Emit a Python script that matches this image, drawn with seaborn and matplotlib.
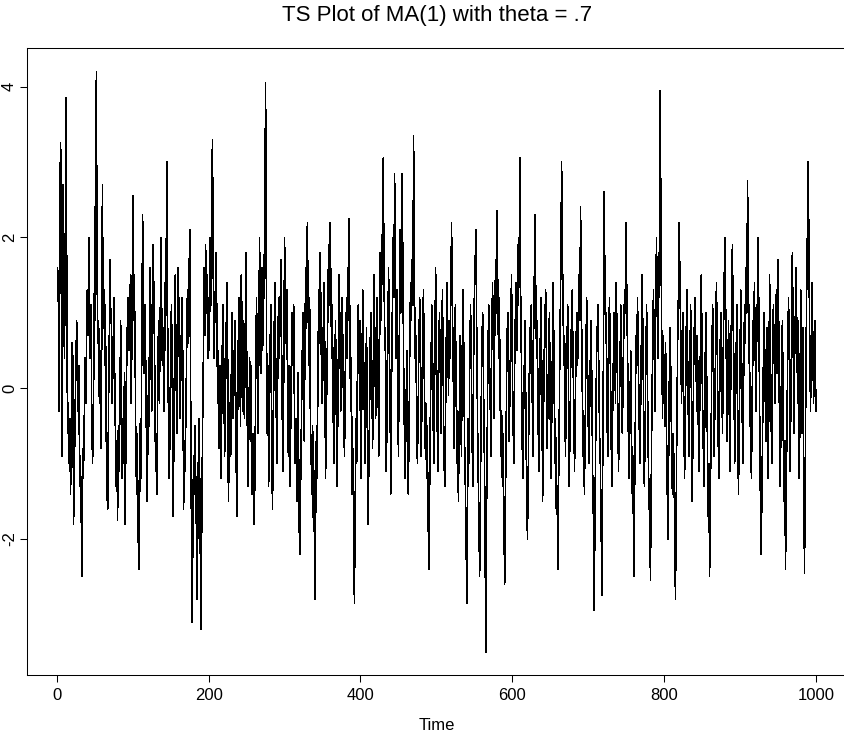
import matplotlib
matplotlib.use("Agg")
import seaborn as sns
import matplotlib.pyplot as plt
import pandas as pd

# Simulated MA(1) series (t = 1..1000)
seg_001_200 = [
    1.6, 1.1, -0.3, 2.7, 3.25, 0.9, -0.9, 2.7, 1.2, 0.4, 1.8, 3.85, 1.5, -0.6, -0.2, -1.0, -0.4, -1.4, -0.8, 0.6,
    0.4, -1.8, -1.2, -0.3, 0.2, 0.9, 0.6, -0.3, 0.3, -1.3, -0.9, -1.6, -2.5, -0.8, -1.2, -0.5, 0.4, -0.2, 0.6, 1.3,
    0.7, 2.0, 1.3, 0.4, 1.1, -0.4, -1.0, -0.5, 0.7, 2.4, 0.9, 4.2, 1.5, 0.6, 0.9, -0.2, 0.5, -0.8, 0.4, 2.7,
    0.8, 1.3, 0.3, 1.1, -0.6, -1.4, -1.6, -0.3, 0.6, 1.7, 1.0, 0.8, -0.2, 0.4, 1.2, 0.3, -0.5, -1.3, -0.7, -1.75,
    -0.5, -1.1, -0.3, 0.9, 0.1, -1.2, -0.4, -1.0, 0.2, -1.8, -0.6, 0.8, 0.3, 1.2, 0.5, 1.0, 1.5, -0.2, 0.8, 2.55,
    0.9, 1.5, 0.6, -0.7, -1.4, -0.6, -1.9, -2.4, -1.5, -0.4, -1.2, 0.8, 2.3, 1.1, 0.2, 1.1, 0.4, -0.7, -1.5, -0.6,
    0.4, -0.5, 1.6, 0.8, -0.3, 0.6, 1.9, 1.0, 0.2, -1.1, -0.6, -1.4, 0.3, 0.9, -0.2, 0.7, 2.0, 1.2, 0.3, 0.8,
    -0.3, 1.4, 0.5, 1.7, 3.0, 0.8, -0.4, -1.2, -0.6, 0.7, 1.1, 0.2, -1.7, -0.9, 0.5, 1.5, 0.3, -0.6, 0.4, 1.6,
    0.8, -0.4, 0.7, 0.1, 1.2, 0.3, -1.6, -0.7, -1.1, -0.3, 0.5, 1.3, 0.6, 1.4, 2.1, 0.3, -1.6, -3.1, -2.2, -0.9,
    -1.4, -0.5, -1.2, -2.0, -2.8, -1.3, -0.4, -1.0, -2.2, -3.2, -1.6, -0.5, 0.4, 1.6, 0.7, 1.9, 1.0, 1.5, 0.4, 1.2,
]
seg_201_400 = [
    0.5, 2.0, 1.1, 2.6, 3.3, 1.6, 0.4, 0.9, 1.4, 1.8, 0.6, -0.2, 0.5, -0.8, 0.3, -1.2, -0.5, 0.6, 1.1, 0.2,
    -0.9, -0.3, 0.7, 1.4, 0.5, -1.5, -0.8, -0.2, -0.9, 0.4, 1.0, -0.4, 0.5, -0.1, 0.9, -0.7, -1.7, -0.6, 0.6, 1.2,
    0.4, -0.5, 1.5, 0.8, -0.3, 0.9, -0.4, 0.5, 1.8, 0.6, -0.6, -1.3, -0.5, 0.4, -0.7, 0.3, -1.4, -0.6, -0.9, -1.8,
    -1.1, 0.2, 1.2, 0.4, -0.6, 0.4, 2.0, 1.1, 0.2, 1.6, 0.5, 0.9, 1.5, 2.4, 4.05, 1.3, -0.6, 0.3, -1.3, -0.5,
    0.6, 1.1, -0.2, -1.6, -0.9, 0.4, 1.4, 0.7, -0.3, -1.0, 0.2, 1.2, 0.4, 0.9, 1.7, 0.6, -0.4, -1.1, 0.3, 2.0,
    1.2, 0.6, 1.3, -0.2, -0.9, 0.3, -1.3, -0.6, 0.4, 1.0, 0.3, 1.1, -0.3, -1.0, -0.4, -1.5, -0.9, 0.2, -1.7, -2.2,
    -1.4, -0.6, 0.3, 1.0, 0.2, -0.7, 0.9, 1.6, 0.8, 2.2, 1.1, 0.3, 1.2, -0.4, -0.9, -1.4, -0.5, -1.9, -1.1, -2.8,
    -1.6, -0.5, -1.2, 0.3, 1.3, 0.6, 1.8, 0.9, -0.2, 0.8, 0.1, 1.4, 0.5, -1.2, -0.4, 0.3, 1.0, 1.9, 1.1, 2.2,
    1.4, 0.4, 1.1, -0.3, -1.0, -0.4, 0.9, 0.2, -1.3, -0.5, 0.6, 1.5, 0.7, -0.3, 0.4, 1.2, 0.3, -0.5, -0.9, 0.2,
    1.0, 0.4, 1.6, 0.9, 2.25, 0.8, -0.3, 0.4, -1.4, -0.8, -1.9, -2.85, -1.6, -0.4, -1.0, 0.3, 1.1, 0.2, 0.9, -0.6,
]
seg_401_600 = [
    -1.2, 0.3, 1.3, 0.5, -0.4, -1.0, 0.1, 0.8, -0.6, -1.8, -1.1, -0.3, 0.7, 1.0, 0.2, -0.8, 0.4, 1.5, 0.6, -0.4,
    0.3, 1.2, 0.4, -0.9, 0.2, 1.8, 0.9, 1.4, 2.2, 3.05, 1.6, 0.5, 0.8, -1.1, -0.4, 0.6, 1.6, 0.7, -0.2, -1.4,
    0.1, 1.1, 2.0, 1.2, 2.85, 1.3, 0.4, 1.3, 0.2, -0.9, 0.4, 2.1, 1.0, 1.5, 2.85, 1.4, 0.2, -0.7, -1.2, -0.3,
    0.5, -0.5, -1.4, -0.6, 0.6, 1.4, 0.9, 1.7, 1.1, 3.35, 1.6, 0.4, 0.7, -0.4, -1.0, -0.3, 0.6, 1.2, 0.3, -0.9,
    -0.2, 0.8, 1.3, 0.3, -0.8, -0.2, -1.2, -0.5, -1.6, -2.4, -1.5, -0.4, 0.4, 1.1, 0.5, -0.6, -1.0, 0.5, 1.6, 0.7,
    -0.4, -1.1, 0.2, 1.0, 0.4, -0.6, 0.5, 1.3, 0.2, -0.9, -1.3, -0.5, 0.6, 1.4, 0.8, -0.1, 0.9, 0.4, 1.2, 2.2,
    1.1, 0.5, -0.8, 0.3, 1.1, 0.0, -1.0, -0.3, -1.5, -0.6, 0.7, 0.2, -0.9, 0.4, 1.3, 0.6, -0.6, -1.2, -1.8, -2.85,
    -1.6, -0.4, -1.0, 0.4, 1.1, 0.5, -0.6, -1.3, 0.3, 1.2, 1.6, 2.1, 0.9, -0.2, -1.1, -1.7, -2.5, -1.4, -0.3, 0.6,
    1.0, 0.2, -0.7, -1.6, -3.5, -1.8, -0.6, 0.5, 1.1, 0.4, -0.3, -0.9, 0.7, 1.4, 0.6, -0.4, 0.9, 1.7, 1.0, 2.35,
    1.2, 0.4, 1.2, -0.1, -0.9, -0.3, -1.3, -0.6, -1.8, -2.6, -1.5, -0.3, 0.6, 1.0, 0.2, -0.7, 0.1, 0.8, 1.5, 0.4,
]
seg_601_800 = [
    -0.4, -1.0, 0.2, 0.9, 1.4, 0.5, 1.9, 1.1, 1.6, 3.05, 1.3, 0.4, -0.7, -1.2, -0.3, 0.4, 0.9, -0.5, -1.4, -2.0,
    -1.2, -0.3, 0.8, 0.2, 1.1, 0.3, -0.9, 0.6, 1.5, 2.3, 1.2, 0.4, 0.9, -0.4, -1.1, -0.2, 0.7, 1.2, 0.1, -1.5,
    -0.6, 0.4, 0.9, 1.3, 0.4, -0.8, -0.2, 0.6, 1.0, -0.3, -1.2, -0.4, 0.6, 1.4, 0.3, -1.0, -0.4, -1.6, -1.3, -2.4,
    -1.3, -0.2, 0.8, 1.6, 3.0, 1.9, 1.0, 0.3, 0.7, -0.9, -0.3, 0.5, 1.1, 0.2, -1.3, -0.6, 0.3, 0.9, 1.3, 0.4,
    -0.2, -1.1, -0.4, 0.6, 1.0, 0.3, 0.8, 1.5, 0.9, 2.4, 1.2, 0.3, -0.9, -0.3, -1.4, -0.6, 0.4, 1.2, 0.5, -0.4,
    -1.0, -0.3, 0.5, 0.9, -0.2, -1.2, -1.8, -2.95, -1.6, -0.6, 0.4, 0.8, 1.1, 0.2, -0.6, -1.0, -1.7, -2.75, -1.2, 0.3,
    2.6, 1.5, 0.6, 1.0, -0.5, -0.9, 0.3, 1.2, 0.6, -0.4, -1.3, -0.5, 0.2, 1.0, 0.5, -0.2, 1.4, 0.7, -0.3, -1.1,
    -0.4, 0.3, 1.1, 0.6, -0.6, 0.1, 0.8, 1.3, 1.0, 2.2, 1.1, 0.4, -0.7, -1.2, -0.3, 0.5, -0.5, -1.4, -0.9, -2.5,
    -1.5, -0.6, 0.7, 0.3, 1.2, 0.5, -0.3, -1.0, -0.4, 0.6, 1.5, 0.8, -0.3, -1.3, -0.6, 0.4, 1.1, 0.2, -0.7, -1.6,
    -1.2, -2.55, -1.3, -0.2, 0.6, 1.3, 0.5, -0.3, 1.0, 2.0, 1.1, 0.4, 1.8, 1.2, 3.95, 1.8, 0.6, -0.4, 0.7, 0.2,
]
seg_801_1000 = [
    -0.5, 0.6, -0.4, -1.2, -2.0, -1.0, 0.2, 0.8, 0.1, -0.9, -1.4, -0.6, -1.0, -1.9, -2.8, -1.5, -0.3, 0.7, 1.3, 2.2,
    1.3, 0.7, -0.2, 0.5, 1.0, -0.3, -1.2, -0.5, 0.6, 1.3, 0.4, -0.4, -0.9, 0.3, 1.1, 0.2, -1.5, -0.7, 0.3, 0.9,
    1.2, 0.5, -0.3, 0.7, -0.4, -1.1, -0.2, 0.6, 1.5, 0.6, -0.8, -0.3, -1.3, 0.2, 1.0, 0.3, -0.6, -1.7, -1.0, -2.5,
    -1.4, -0.6, 0.5, 1.1, 0.3, -0.9, -0.2, 0.7, 1.4, 0.6, -0.4, -1.2, -0.3, 0.6, 1.0, 0.2, -0.6, 0.5, 1.3, 2.0,
    1.2, 0.4, -0.7, 0.2, 0.9, -0.4, -1.1, 0.3, 1.2, 1.9, 0.9, 0.3, -1.0, -0.4, 0.5, 1.1, -0.3, -1.4, -0.6, 0.4,
    1.3, 0.6, -0.4, -1.0, 0.3, 1.1, 0.6, 1.6, 1.0, 2.75, 1.5, 0.7, -0.5, 0.2, -1.2, -0.4, 0.9, 0.3, 1.4, 0.5,
    -0.3, 0.6, 1.2, 2.0, 0.8, -0.4, -1.6, -2.2, -1.3, -0.4, 0.5, 1.0, 0.1, -0.7, 0.2, 0.8, -1.2, -0.3, 1.5, 0.7,
    -0.4, -1.0, 0.4, 1.1, 0.5, -0.2, 0.8, 1.3, 0.2, 1.7, 0.9, -0.4, -1.3, -0.5, 0.6, 0.9, -0.6, -1.5, -0.7, -2.4,
    -1.4, -0.3, 0.6, 1.2, 0.4, -1.1, -0.3, 0.7, 1.8, 0.8, -0.6, 0.4, 1.0, 1.6, 0.7, -0.2, 0.9, -1.2, -0.4, 1.3,
    0.6, -0.6, 0.8, -1.0, -2.45, -1.2, 0.4, 1.4, 2.2, 3.0, 1.6, 0.5, -0.3, 0.7, 1.4, 0.6, -0.2, 0.5, 0.9, -0.3,
]

x_ticks = [0, 200, 400, 600, 800, 1000]
y_ticks = [-2, 0, 2, 4]

segments = [seg_001_200, seg_201_400, seg_401_600, seg_601_800, seg_801_1000]
for i, seg in enumerate(segments):
    assert len(seg) == 200, (i, len(seg))
values = sum(segments, [])
df = pd.DataFrame({"Time": range(1, len(values) + 1), "y": values})

sns.set_theme(style="ticks")
plt.rcParams["font.family"] = ["Liberation Sans", "DejaVu Sans"]

W, H = 845, 733
fig = plt.figure(figsize=(W / 100, H / 100), dpi=100)
ax = fig.add_axes([27.3 / W, 57.7 / H, 818.9 / W, 627 / H])

# thin, aliased line like R's png device
sns.lineplot(data=df, x="Time", y="y", color="black", linewidth=0.45,
             estimator=None, antialiased=False, ax=ax)

# R-style 4% axis extension
n = len(values)
ax.set_xlim(1 - 0.04 * (n - 1), n + 0.04 * (n - 1))
lo, hi = min(values), max(values)
ax.set_ylim(lo - 0.04 * (hi - lo), hi + 0.04 * (hi - lo))

ax.set_xticks(x_ticks)
ax.set_yticks(y_ticks)
ax.set_yticklabels([str(v) for v in y_ticks], rotation=90, va="center")
ax.tick_params(axis="both", direction="out", length=5, width=0.75,
               labelsize=12, colors="black")
ax.tick_params(axis="x", pad=4.5)
ax.tick_params(axis="y", pad=2.5)
for s in ax.spines.values():
    s.set_visible(True)
    s.set_color("black")
    s.set_linewidth(0.75)

ax.set_xlabel("")
ax.set_ylabel("")
cx = (ax.get_position().x0 + ax.get_position().x1) / 2
fig.text(cx, (H - 20.7) / H, "TS Plot of MA(1) with theta = .7",
         ha="center", va="baseline", fontsize=16, color="black")
fig.text(cx, (H - 729.5) / H, "Time", ha="center", va="baseline",
         fontsize=12, color="black")

fig.savefig("out.png", dpi=100, facecolor="white")
